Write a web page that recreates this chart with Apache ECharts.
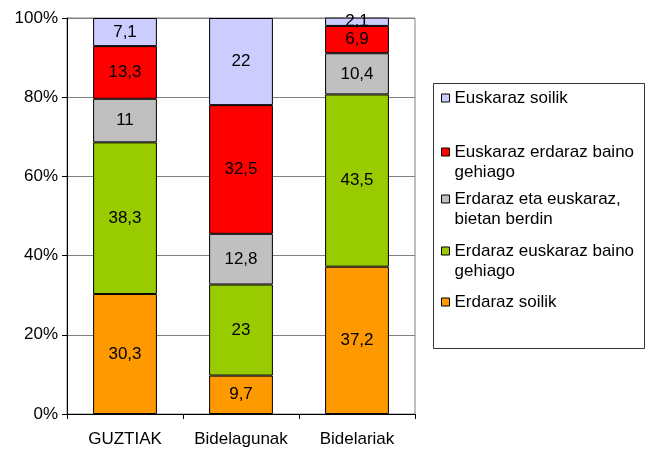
<!DOCTYPE html>
<html>
<head>
<meta charset="utf-8">
<script src="https://cdn.jsdelivr.net/npm/echarts@6/dist/echarts.min.js"></script>
<style>
  html, body { margin: 0; padding: 0; background: #fff; }
  #chart { width: 655px; height: 449px; }
</style>
</head>
<body>
<div id="chart"></div>
<script>
// categories (x axis)
const categories = ['GUZTIAK', 'Bidelagunak', 'Bidelariak']

// series, bottom to top
const erdarazSoilik = [30.3, 9.7, 37.2]
const erdarazGehiago = [38.3, 23, 43.5]
const bietanBerdin = [11, 12.8, 10.4]
const euskarazGehiago = [13.3, 32.5, 6.9]
const euskarazSoilik = [7.1, 22, 2.1]

const yTicks = [0, 20, 40, 60, 80, 100]

const seriesDefs = [
  { name: 'Erdaraz soilik', data: erdarazSoilik, color: '#FF9900' },
  { name: 'Erdaraz euskaraz baino\ngehiago', data: erdarazGehiago, color: '#99CC00' },
  { name: 'Erdaraz eta euskaraz,\nbietan berdin', data: bietanBerdin, color: '#C0C0C0' },
  { name: 'Euskaraz erdaraz baino\ngehiago', data: euskarazGehiago, color: '#FF0000' },
  { name: 'Euskaraz soilik', data: euskarazSoilik, color: '#CCCCFF' }
]

// legend rows, top to bottom (icon centre y)
const legendRows = [
  { idx: 4, y: 98 },
  { idx: 3, y: 152 },
  { idx: 2, y: 199 },
  { idx: 1, y: 251 },
  { idx: 0, y: 302 }
]

const font = '"Liberation Sans", Arial, sans-serif'
const lh = 20

const chart = echarts.init(document.getElementById('chart'))

const series = seriesDefs.map(s => ({
  name: s.name,
  type: 'bar',
  stack: 'total',
  barWidth: '55%',
  data: s.data,
  itemStyle: { color: s.color, borderColor: '#000', borderWidth: 1 },
  label: {
    show: true,
    position: 'inside',
    color: '#000',
    fontFamily: font,
    fontSize: 17,
    formatter: p => String(p.value).replace('.', ',')
  },
  emphasis: { disabled: true }
}))

// two-line names get an empty first line so the icon sits beside line one
const legends = legendRows.map(r => {
  const s = seriesDefs[r.idx]
  const twoLine = s.name.indexOf('\n') >= 0
  return {
    orient: 'vertical',
    left: 441,
    top: twoLine ? r.y - 1.5 * lh : r.y - lh / 2,
    padding: 0,
    itemWidth: 8,
    itemHeight: 8,
    itemGap: 10,
    selectedMode: false,
    icon: 'rect',
    data: [{ name: s.name, itemStyle: { borderColor: '#000', borderWidth: 1 } }],
    formatter: name => (name.indexOf('\n') >= 0 ? ' \n' + name : name),
    textStyle: {
      fontFamily: font,
      fontSize: 17,
      lineHeight: lh,
      color: '#000'
    }
  }
})

const option = {
  animation: false,
  backgroundColor: '#fff',
  grid: {
    left: 67,
    right: 240,
    top: 18,
    bottom: 35,
    show: true,
    borderColor: '#808080',
    borderWidth: 1
  },
  xAxis: {
    type: 'category',
    data: categories,
    axisLine: { lineStyle: { color: '#000' } },
    axisTick: { show: true, length: 5, lineStyle: { color: '#000' } },
    axisLabel: { interval: 0, color: '#000', fontFamily: font, fontSize: 17, margin: 17 }
  },
  yAxis: {
    type: 'value',
    min: 0,
    max: 100,
    interval: 20,
    axisLine: { show: true, lineStyle: { color: '#000' } },
    axisTick: { show: true, length: 5, lineStyle: { color: '#000' } },
    axisLabel: {
      color: '#000',
      fontFamily: font,
      fontSize: 17,
      margin: 9,
      formatter: v => (yTicks.indexOf(v) >= 0 ? v + '%' : '')
    },
    splitLine: { lineStyle: { color: '#808080' } }
  },
  legend: legends,
  graphic: [{
    type: 'rect',
    shape: { x: 433.5, y: 83.5, width: 211, height: 265 },
    style: { fill: 'none', stroke: '#333', lineWidth: 1 },
    z: -1
  }],
  series: series
}

chart.setOption(option)
</script>
</body>
</html>
